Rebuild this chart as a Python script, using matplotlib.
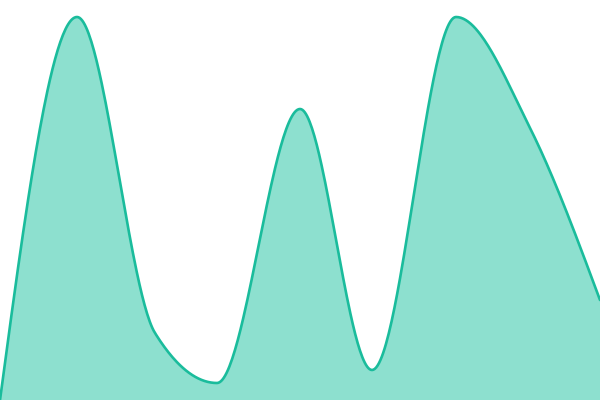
import numpy as np
import matplotlib
matplotlib.use("Agg")
import matplotlib.pyplot as plt

# data (x position, value)
xs = [0, 77, 155, 217, 300, 372, 456, 530, 600]
values = [0, 383, 67, 17, 291, 30, 383, 272, 100]

line_color = "#1abc9c"
fill_color = "#8de0cf"


def monotone_curve(x, y, n=60):
    x = np.asarray(x, float)
    y = np.asarray(y, float)
    h = np.diff(x)
    s = np.diff(y) / h
    m = len(x)
    t = np.zeros(m)
    for i in range(1, m - 1):
        s0, s1 = s[i - 1], s[i]
        p = (s0 * h[i] + s1 * h[i - 1]) / (h[i - 1] + h[i])
        t[i] = (np.sign(s0) + np.sign(s1)) * min(abs(s0), abs(s1), 0.5 * abs(p))
    t[0] = (3 * s[0] - t[1]) / 2
    t[-1] = (3 * s[-1] - t[-2]) / 2
    X, Y = [], []
    for i in range(m - 1):
        u = np.linspace(0, 1, n, endpoint=(i == m - 2))
        h00 = 2 * u**3 - 3 * u**2 + 1
        h10 = u**3 - 2 * u**2 + u
        h01 = -2 * u**3 + 3 * u**2
        h11 = u**3 - u**2
        X.append(x[i] + u * h[i])
        Y.append(h00 * y[i] + h10 * h[i] * t[i] + h01 * y[i + 1] + h11 * h[i] * t[i + 1])
    return np.concatenate(X), np.concatenate(Y)


cx, cy = monotone_curve(xs, values)

fig = plt.figure(figsize=(6, 4), dpi=100)
ax = fig.add_axes([0, 0, 1, 1])
ax.fill_between(cx, cy, 0, color=fill_color, linewidth=0)
ax.plot(cx, cy, color=line_color, linewidth=1.9, solid_capstyle="round")
ax.set_xlim(0, 600)
ax.set_ylim(0, 400)
ax.axis("off")
fig.savefig("out.png", dpi=100)
